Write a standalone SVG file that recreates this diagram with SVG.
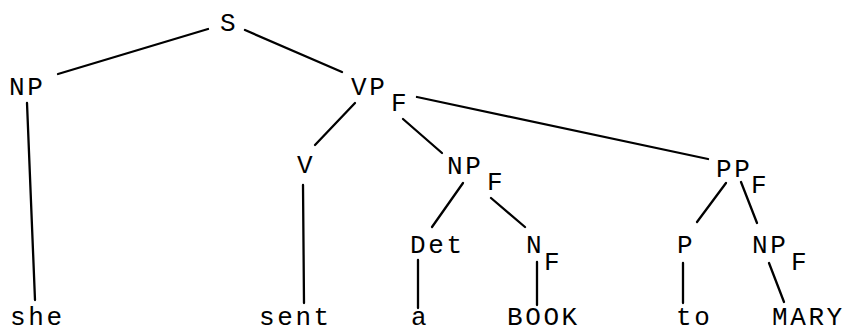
<svg xmlns="http://www.w3.org/2000/svg" width="851" height="333" viewBox="0 0 851 333">
<style>
text{font-family:"Liberation Mono","DejaVu Sans Mono",monospace;font-size:26px;letter-spacing:2.6px;fill:#000}
.e line{stroke:#000;stroke-width:2.3;stroke-linecap:round}
</style>
<rect width="851" height="333" fill="#fff"/>
<g class="e" id="edges">
<line x1="208" y1="29" x2="58" y2="74"/>
<line x1="245" y1="30" x2="342" y2="72"/>
<line x1="27" y1="103" x2="35" y2="300"/>
<line x1="355" y1="103" x2="315" y2="145"/>
<line x1="403" y1="119" x2="442" y2="153"/>
<line x1="417" y1="97" x2="708" y2="159"/>
<line x1="303" y1="185" x2="304" y2="303"/>
<line x1="463" y1="183" x2="432" y2="227"/>
<line x1="491" y1="198" x2="525" y2="227"/>
<line x1="418" y1="260" x2="418" y2="308"/>
<line x1="537" y1="262" x2="537" y2="305"/>
<line x1="726" y1="183" x2="697" y2="222"/>
<line x1="741" y1="182" x2="757" y2="223"/>
<line x1="683" y1="263" x2="683" y2="303"/>
<line x1="769" y1="263" x2="784" y2="302"/>
</g>
<g id="S"><text x="220" y="31">S</text></g>
<g id="NP1"><text x="9" y="95">NP</text></g>
<g id="VP"><text x="351" y="95">VP</text><text x="391" y="111">F</text></g>
<g id="V"><text x="297" y="173">V</text></g>
<g id="NP2"><text x="447" y="174">NP</text><text x="487" y="190">F</text></g>
<g id="PP"><text x="716" y="177">PP</text><text x="751" y="193">F</text></g>
<g id="Det"><text x="410" y="253">Det</text></g>
<g id="N"><text x="526" y="253">N</text><text x="544" y="270">F</text></g>
<g id="P"><text x="677" y="253">P</text></g>
<g id="NP3"><text x="752" y="253">NP</text><text x="791" y="270">F</text></g>
<g id="she"><text x="10" y="325">she</text></g>
<g id="sent"><text x="259" y="325">sent</text></g>
<g id="a"><text x="411" y="325">a</text></g>
<g id="BOOK"><text x="507" y="325">BOOK</text></g>
<g id="to"><text x="676" y="325">to</text></g>
<g id="MARY"><text x="772" y="325">MARY</text></g>
</svg>
